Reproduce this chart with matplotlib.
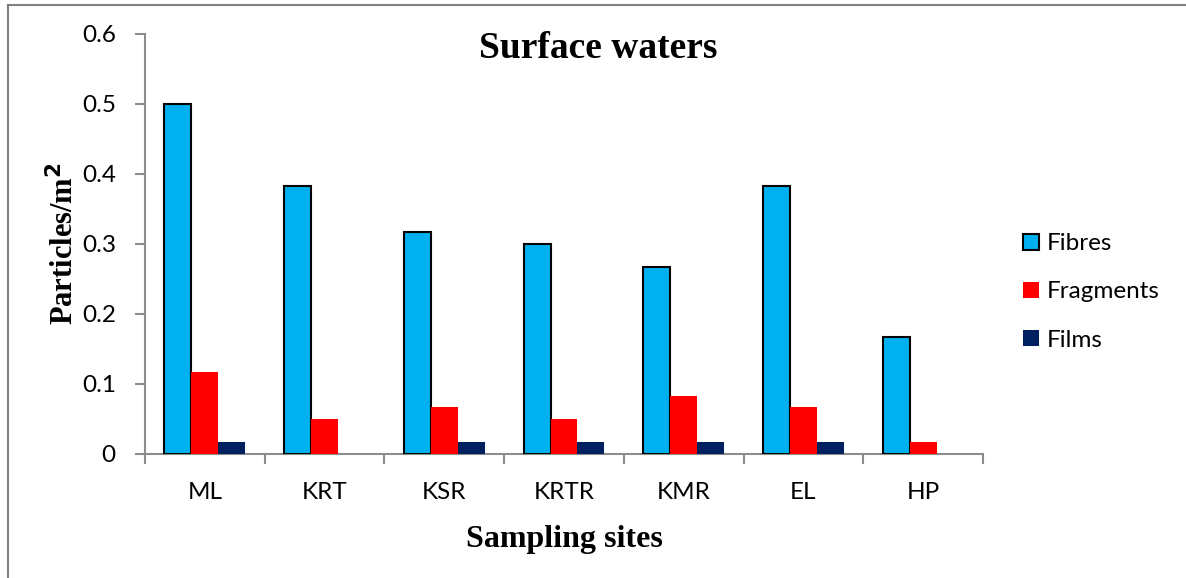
import numpy as np
import matplotlib.pyplot as plt
from matplotlib.lines import Line2D

sites = ['ML', 'KRT', 'KSR', 'KRTR', 'KMR', 'EL', 'HP']
fibres = [0.5, 0.383, 0.317, 0.3, 0.267, 0.383, 0.167]
fragments = [0.117, 0.05, 0.067, 0.05, 0.083, 0.067, 0.017]
films = [0.017, 0, 0.017, 0.017, 0.017, 0.017, 0]

tick_font = 'Lato'
serif = 'Liberation Serif'
axis_grey = '#8c8c8c'

fig = plt.figure(figsize=(11.86, 5.78), dpi=100)
ax = fig.add_axes([145/1186, 124/578, 838/1186, 420/578])

x = np.arange(len(sites))
w = 0.225
ax.bar(x - w, fibres, w, color='#00B0F0', edgecolor='black', linewidth=1.5, label='Fibres', zorder=3)
ax.bar(x, fragments, w, color='#FF0000', label='Fragments', zorder=3)
ax.bar(x + w, films, w, color='#002060', label='Films', zorder=3)

ax.set_xlim(-0.5, len(sites) - 0.5)
ax.set_ylim(0, 0.6)
ax.set_yticks([0, 0.1, 0.2, 0.3, 0.4, 0.5, 0.6])
ax.set_yticklabels(['0', '0.1', '0.2', '0.3', '0.4', '0.5', '0.6'], fontfamily=tick_font, fontsize=17.5)

# category labels centred, tick marks on the boundaries
ax.set_xticks(x)
ax.set_xticklabels(sites, fontfamily=tick_font, fontsize=17.5)
ax.tick_params(axis='x', length=0, pad=20)
ax.set_xticks(np.arange(-0.5, len(sites)), minor=True)
ax.tick_params(axis='x', which='minor', length=7, color=axis_grey, width=1.5)
ax.tick_params(axis='y', length=7, color=axis_grey, width=1.5, pad=14)

for s in ['top', 'right']:
    ax.spines[s].set_visible(False)
for s in ['left', 'bottom']:
    ax.spines[s].set_color(axis_grey)
    ax.spines[s].set_linewidth(1.5)

fig.text(598/1186, 1 - 48/578, 'Surface waters', fontfamily=serif, fontweight='bold',
         fontsize=27, ha='center', va='center')
ax.set_xlabel('Sampling sites', fontfamily=serif, fontweight='bold', fontsize=23, labelpad=16)
ax.set_ylabel('Particles/m$^\\mathbf{2}$', fontfamily=serif, fontweight='bold', fontsize=22, labelpad=1)

leg = ax.legend(loc='center left', bbox_to_anchor=(1.022, 0.386), frameon=False,
                prop={'family': tick_font, 'size': 17.5}, handlelength=0.65, handleheight=0.65,
                handletextpad=0.3, labelspacing=1.12)

# figure border on the left and top
fig.add_artist(Line2D([7.5/1186, 7.5/1186], [0, 1 - 5/578], transform=fig.transFigure, color='#808080', lw=1.5))
fig.add_artist(Line2D([7.5/1186, 1], [1 - 5/578, 1 - 5/578], transform=fig.transFigure, color='#808080', lw=1.5))

fig.savefig('out.png', dpi=100)
